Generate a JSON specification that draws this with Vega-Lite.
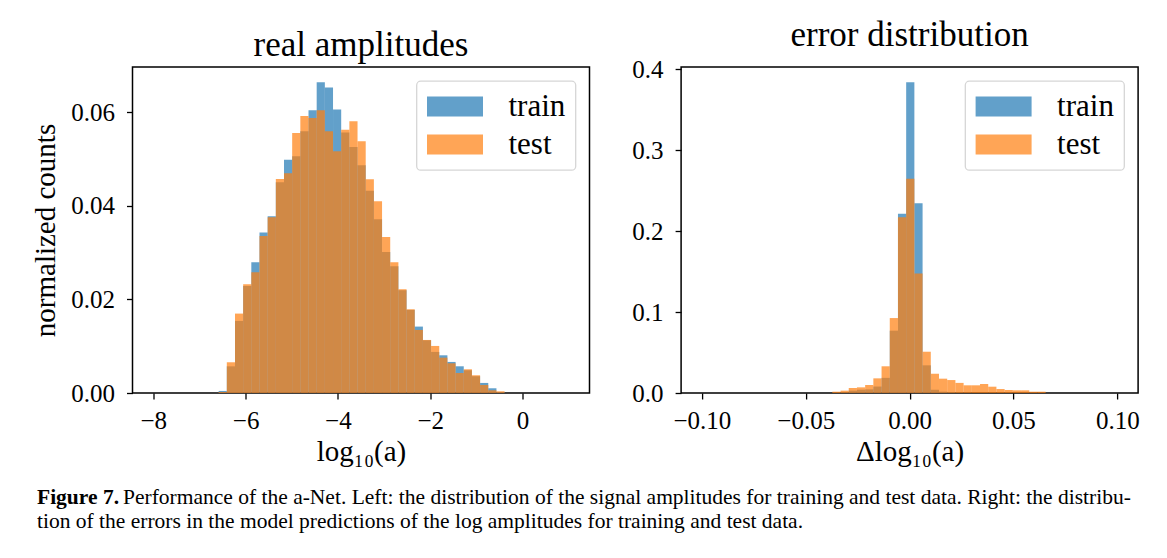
{
  "$schema": "https://vega.github.io/schema/vega-lite/v6.json",
  "background": "white",
  "padding": {"left": 30.5, "top": 17, "right": 10, "bottom": 10},
  "bounds": "flush",
  "spacing": 91.6,
  "config": {
    "font": "Liberation Serif",
    "view": {"stroke": "black", "strokeWidth": 1.5},
    "axis": {
      "domain": false,
      "grid": false,
      "ticks": true,
      "tickColor": "black",
      "tickSize": 6,
      "tickWidth": 1.3,
      "labelFont": "Liberation Serif",
      "labelFontSize": 25,
      "labelColor": "black",
      "labelPadding": 9,
      "titleFont": "Liberation Serif",
      "titleFontSize": 29,
      "titleFontWeight": "normal",
      "titleColor": "black"
    },
    "axisX": {"titlePadding": 4},
    "axisY": {"titlePadding": 10, "labelPadding": 12},
    "title": {"font": "Liberation Serif", "fontSize": 35, "fontWeight": "normal", "color": "black", "offset": 4},
    "legend": {
      "title": null,
      "orient": "top-right",
      "offset": 14,
      "padding": 10,
      "strokeColor": "#d6d6d6",
      "strokeWidth": 1.3,
      "cornerRadius": 4,
      "fillColor": "white",
      "symbolType": "M-2,-0.714H2V0.714H-2Z",
      "symbolSize": 784,
      "symbolStrokeWidth": 0,
      "symbolOpacity": 0.7,
      "symbolOffset": 13,
      "labelFont": "Liberation Serif",
      "labelFontSize": 31,
      "labelColor": "black",
      "labelOffset": 38,
      "rowPadding": 6
    }
  },
  "title": {
    "text": "Figure 7.",
    "subtitle": [
      "\u200b\u00a0\u00a0\u00a0\u00a0\u00a0\u00a0\u00a0\u00a0\u00a0\u00a0\u00a0\u00a0\u00a0\u00a0\u00a0\u00a0Performance of the a-Net. Left: the distribution of the signal amplitudes for training and test data. Right: the distribu-",
      "tion of the errors in the model predictions of the log amplitudes for training and test data."
    ],
    "orient": "bottom",
    "anchor": "start",
    "dx": 6,
    "font": "Liberation Serif",
    "fontSize": 21.5,
    "fontWeight": "bold",
    "color": "black",
    "subtitleFont": "Liberation Serif",
    "subtitleFontSize": 21.5,
    "subtitleColor": "black",
    "subtitlePadding": -21.5,
    "subtitleLineHeight": 24,
    "offset": 20
  },
  "datasets": {
    "amplitudes": [
      {"series": "train", "bin_start": -6.584, "bin_end": -6.407, "density": 0.00044},
      {"series": "train", "bin_start": -6.407, "bin_end": -6.230, "density": 0.0057},
      {"series": "train", "bin_start": -6.230, "bin_end": -6.053, "density": 0.01541},
      {"series": "train", "bin_start": -6.053, "bin_end": -5.876, "density": 0.0229},
      {"series": "train", "bin_start": -5.876, "bin_end": -5.699, "density": 0.02796},
      {"series": "train", "bin_start": -5.699, "bin_end": -5.522, "density": 0.0343},
      {"series": "train", "bin_start": -5.522, "bin_end": -5.345, "density": 0.0378},
      {"series": "train", "bin_start": -5.345, "bin_end": -5.168, "density": 0.04506},
      {"series": "train", "bin_start": -5.168, "bin_end": -4.991, "density": 0.04985},
      {"series": "train", "bin_start": -4.991, "bin_end": -4.814, "density": 0.05062},
      {"series": "train", "bin_start": -4.814, "bin_end": -4.637, "density": 0.05596},
      {"series": "train", "bin_start": -4.637, "bin_end": -4.460, "density": 0.06046},
      {"series": "train", "bin_start": -4.460, "bin_end": -4.283, "density": 0.06646},
      {"series": "train", "bin_start": -4.283, "bin_end": -4.106, "density": 0.06532},
      {"series": "train", "bin_start": -4.106, "bin_end": -3.929, "density": 0.0606},
      {"series": "train", "bin_start": -3.929, "bin_end": -3.752, "density": 0.05567},
      {"series": "train", "bin_start": -3.752, "bin_end": -3.575, "density": 0.05262},
      {"series": "train", "bin_start": -3.575, "bin_end": -3.398, "density": 0.0487},
      {"series": "train", "bin_start": -3.398, "bin_end": -3.221, "density": 0.04322},
      {"series": "train", "bin_start": -3.221, "bin_end": -3.044, "density": 0.03715},
      {"series": "train", "bin_start": -3.044, "bin_end": -2.867, "density": 0.03016},
      {"series": "train", "bin_start": -2.867, "bin_end": -2.690, "density": 0.0271},
      {"series": "train", "bin_start": -2.690, "bin_end": -2.513, "density": 0.02197},
      {"series": "train", "bin_start": -2.513, "bin_end": -2.336, "density": 0.01776},
      {"series": "train", "bin_start": -2.336, "bin_end": -2.159, "density": 0.0142},
      {"series": "train", "bin_start": -2.159, "bin_end": -1.982, "density": 0.01127},
      {"series": "train", "bin_start": -1.982, "bin_end": -1.805, "density": 0.00878},
      {"series": "train", "bin_start": -1.805, "bin_end": -1.628, "density": 0.00806},
      {"series": "train", "bin_start": -1.628, "bin_end": -1.451, "density": 0.00664},
      {"series": "train", "bin_start": -1.451, "bin_end": -1.274, "density": 0.00571},
      {"series": "train", "bin_start": -1.274, "bin_end": -1.097, "density": 0.00486},
      {"series": "train", "bin_start": -1.097, "bin_end": -0.920, "density": 0.00358},
      {"series": "train", "bin_start": -0.920, "bin_end": -0.743, "density": 0.00215},
      {"series": "train", "bin_start": -0.743, "bin_end": -0.566, "density": 0.00101},
      {"series": "train", "bin_start": -0.566, "bin_end": -0.389, "density": 0.00022},
      {"series": "test", "bin_start": -6.584, "bin_end": -6.407, "density": 0.00022},
      {"series": "test", "bin_start": -6.407, "bin_end": -6.230, "density": 0.00657},
      {"series": "test", "bin_start": -6.230, "bin_end": -6.053, "density": 0.01698},
      {"series": "test", "bin_start": -6.053, "bin_end": -5.876, "density": 0.02325},
      {"series": "test", "bin_start": -5.876, "bin_end": -5.699, "density": 0.02582},
      {"series": "test", "bin_start": -5.699, "bin_end": -5.522, "density": 0.03359},
      {"series": "test", "bin_start": -5.522, "bin_end": -5.345, "density": 0.03758},
      {"series": "test", "bin_start": -5.345, "bin_end": -5.168, "density": 0.04578},
      {"series": "test", "bin_start": -5.168, "bin_end": -4.991, "density": 0.04699},
      {"series": "test", "bin_start": -4.991, "bin_end": -4.814, "density": 0.05561},
      {"series": "test", "bin_start": -4.814, "bin_end": -4.637, "density": 0.05924},
      {"series": "test", "bin_start": -4.637, "bin_end": -4.460, "density": 0.05882},
      {"series": "test", "bin_start": -4.460, "bin_end": -4.283, "density": 0.06046},
      {"series": "test", "bin_start": -4.283, "bin_end": -4.106, "density": 0.05596},
      {"series": "test", "bin_start": -4.106, "bin_end": -3.929, "density": 0.05168},
      {"series": "test", "bin_start": -3.929, "bin_end": -3.752, "density": 0.05631},
      {"series": "test", "bin_start": -3.752, "bin_end": -3.575, "density": 0.05809},
      {"series": "test", "bin_start": -3.575, "bin_end": -3.398, "density": 0.05381},
      {"series": "test", "bin_start": -3.398, "bin_end": -3.221, "density": 0.04568},
      {"series": "test", "bin_start": -3.221, "bin_end": -3.044, "density": 0.041},
      {"series": "test", "bin_start": -3.044, "bin_end": -2.867, "density": 0.03337},
      {"series": "test", "bin_start": -2.867, "bin_end": -2.690, "density": 0.02796},
      {"series": "test", "bin_start": -2.690, "bin_end": -2.513, "density": 0.02218},
      {"series": "test", "bin_start": -2.513, "bin_end": -2.336, "density": 0.0179},
      {"series": "test", "bin_start": -2.336, "bin_end": -2.159, "density": 0.01348},
      {"series": "test", "bin_start": -2.159, "bin_end": -1.982, "density": 0.01134},
      {"series": "test", "bin_start": -1.982, "bin_end": -1.805, "density": 0.01006},
      {"series": "test", "bin_start": -1.805, "bin_end": -1.628, "density": 0.00756},
      {"series": "test", "bin_start": -1.628, "bin_end": -1.451, "density": 0.00635},
      {"series": "test", "bin_start": -1.451, "bin_end": -1.274, "density": 0.00428},
      {"series": "test", "bin_start": -1.274, "bin_end": -1.097, "density": 0.00507},
      {"series": "test", "bin_start": -1.097, "bin_end": -0.920, "density": 0.00379},
      {"series": "test", "bin_start": -0.920, "bin_end": -0.743, "density": 0.00172},
      {"series": "test", "bin_start": -0.743, "bin_end": -0.566, "density": 0.00058},
      {"series": "test", "bin_start": -0.566, "bin_end": -0.389, "density": 0.00036}
    ],
    "errors": [
      {"series": "train", "bin_start": -0.03720, "bin_end": -0.03325, "density": 0.0003},
      {"series": "train", "bin_start": -0.03325, "bin_end": -0.02930, "density": 0.0008},
      {"series": "train", "bin_start": -0.02930, "bin_end": -0.02535, "density": 0.0029},
      {"series": "train", "bin_start": -0.02535, "bin_end": -0.02140, "density": 0.0041},
      {"series": "train", "bin_start": -0.02140, "bin_end": -0.01745, "density": 0.0045},
      {"series": "train", "bin_start": -0.01745, "bin_end": -0.01350, "density": 0.0080},
      {"series": "train", "bin_start": -0.01350, "bin_end": -0.00955, "density": 0.0187},
      {"series": "train", "bin_start": -0.00955, "bin_end": -0.00560, "density": 0.0770},
      {"series": "train", "bin_start": -0.00560, "bin_end": -0.00165, "density": 0.2214},
      {"series": "train", "bin_start": -0.00165, "bin_end": 0.00230, "density": 0.3840},
      {"series": "train", "bin_start": 0.00230, "bin_end": 0.00625, "density": 0.2346},
      {"series": "train", "bin_start": 0.00625, "bin_end": 0.01020, "density": 0.0342},
      {"series": "train", "bin_start": 0.01020, "bin_end": 0.01415, "density": 0.0041},
      {"series": "train", "bin_start": 0.01415, "bin_end": 0.01810, "density": 0.0016},
      {"series": "train", "bin_start": 0.01810, "bin_end": 0.02205, "density": 0.0008},
      {"series": "train", "bin_start": 0.02205, "bin_end": 0.02600, "density": 0.0004},
      {"series": "train", "bin_start": 0.02600, "bin_end": 0.02995, "density": 0.0002},
      {"series": "test", "bin_start": -0.03720, "bin_end": -0.03325, "density": 0.0016},
      {"series": "test", "bin_start": -0.03325, "bin_end": -0.02930, "density": 0.0029},
      {"series": "test", "bin_start": -0.02930, "bin_end": -0.02535, "density": 0.0062},
      {"series": "test", "bin_start": -0.02535, "bin_end": -0.02140, "density": 0.0070},
      {"series": "test", "bin_start": -0.02140, "bin_end": -0.01745, "density": 0.0099},
      {"series": "test", "bin_start": -0.01745, "bin_end": -0.01350, "density": 0.0181},
      {"series": "test", "bin_start": -0.01350, "bin_end": -0.00955, "density": 0.0330},
      {"series": "test", "bin_start": -0.00955, "bin_end": -0.00560, "density": 0.0926},
      {"series": "test", "bin_start": -0.00560, "bin_end": -0.00165, "density": 0.2173},
      {"series": "test", "bin_start": -0.00165, "bin_end": 0.00230, "density": 0.2646},
      {"series": "test", "bin_start": 0.00230, "bin_end": 0.00625, "density": 0.1477},
      {"series": "test", "bin_start": 0.00625, "bin_end": 0.01020, "density": 0.0510},
      {"series": "test", "bin_start": 0.01020, "bin_end": 0.01415, "density": 0.0239},
      {"series": "test", "bin_start": 0.01415, "bin_end": 0.01810, "density": 0.0177},
      {"series": "test", "bin_start": 0.01810, "bin_end": 0.02205, "density": 0.0160},
      {"series": "test", "bin_start": 0.02205, "bin_end": 0.02600, "density": 0.0125},
      {"series": "test", "bin_start": 0.02600, "bin_end": 0.02995, "density": 0.0095},
      {"series": "test", "bin_start": 0.02995, "bin_end": 0.03390, "density": 0.0095},
      {"series": "test", "bin_start": 0.03390, "bin_end": 0.03785, "density": 0.0111},
      {"series": "test", "bin_start": 0.03785, "bin_end": 0.04180, "density": 0.0078},
      {"series": "test", "bin_start": 0.04180, "bin_end": 0.04575, "density": 0.0049},
      {"series": "test", "bin_start": 0.04575, "bin_end": 0.04970, "density": 0.0037},
      {"series": "test", "bin_start": 0.04970, "bin_end": 0.05365, "density": 0.0033},
      {"series": "test", "bin_start": 0.05365, "bin_end": 0.05760, "density": 0.0033},
      {"series": "test", "bin_start": 0.05760, "bin_end": 0.06155, "density": 0.0016},
      {"series": "test", "bin_start": 0.06155, "bin_end": 0.06550, "density": 0.0016}
    ]
  },
  "resolve": {"scale": {"color": "independent"}, "legend": {"color": "independent"}},
  "hconcat": [
    {
      "width": 457,
      "height": 326,
      "title": "real amplitudes",
      "data": {"name": "amplitudes"},
      "mark": {"type": "bar", "opacity": 0.7, "strokeWidth": 0},
      "encoding": {
        "x": {
          "field": "bin_start", "type": "quantitative",
          "scale": {"domain": [-8.45, 1.45], "nice": false, "zero": false},
          "axis": {"values": [-8, -6, -4, -2, 0], "format": "d", "title": "log₁₀(a)"}
        },
        "x2": {"field": "bin_end"},
        "y": {
          "field": "density", "type": "quantitative", "stack": null,
          "scale": {"domain": [0, 0.0697], "nice": false},
          "axis": {"values": [0, 0.02, 0.04, 0.06], "format": ".2f", "title": "normalized counts"}
        },
        "y2": {"datum": 0},
        "color": {
          "field": "series", "type": "nominal",
          "scale": {"domain": ["train", "test"], "range": ["#1f77b4", "#ff7f0e"]}
        }
      }
    },
    {
      "width": 457,
      "height": 326,
      "title": "error distribution",
      "data": {"name": "errors"},
      "mark": {"type": "bar", "opacity": 0.7, "strokeWidth": 0},
      "encoding": {
        "x": {
          "field": "bin_start", "type": "quantitative",
          "scale": {"domain": [-0.11, 0.11], "nice": false, "zero": false},
          "axis": {"values": [-0.1, -0.05, 0, 0.05, 0.1], "format": ".2f", "title": "Δlog₁₀(a)"}
        },
        "x2": {"field": "bin_end"},
        "y": {
          "field": "density", "type": "quantitative", "stack": null,
          "scale": {"domain": [0, 0.4028], "nice": false},
          "axis": {"values": [0, 0.1, 0.2, 0.3, 0.4], "format": ".1f", "title": null}
        },
        "y2": {"datum": 0},
        "color": {
          "field": "series", "type": "nominal",
          "scale": {"domain": ["train", "test"], "range": ["#1f77b4", "#ff7f0e"]}
        }
      }
    }
  ]
}
